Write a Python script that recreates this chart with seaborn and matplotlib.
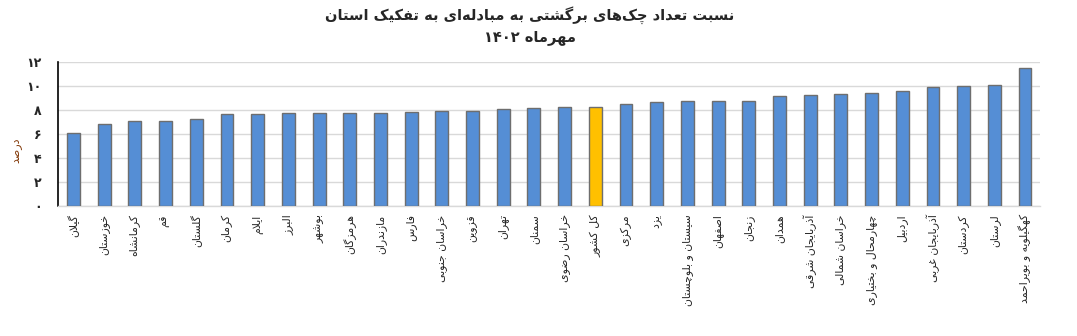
import numpy as np
import pandas as pd
import matplotlib
matplotlib.use("Agg")
import matplotlib.pyplot as plt
import seaborn as sns

# ---------------- data ----------------
provinces = [
    "گیلان", "خوزستان", "کرمانشاه", "قم", "گلستان", "کرمان", "ایلام", "البرز",
    "بوشهر", "هرمزگان", "مازندران", "فارس", "خراسان جنوبی", "قزوین", "تهران",
    "سمنان", "خراسان رضوی", "کل کشور", "مرکزی", "یزد", "سیستان و بلوچستان",
    "اصفهان", "زنجان", "همدان", "آذربایجان شرقی", "خراسان شمالی",
    "چهارمحال و بختیاری", "اردبیل", "آذربایجان غربی", "کردستان", "لرستان",
    "کهگیلویه و بویراحمد",
]
values = [
    6.13, 6.80, 7.05, 7.13, 7.25, 7.67, 7.70, 7.72,
    7.75, 7.78, 7.78, 7.86, 7.92, 7.94, 8.13,
    8.19, 8.25, 8.25, 8.47, 8.64, 8.75,
    8.80, 8.80, 9.17, 9.28, 9.33,
    9.45, 9.60, 9.95, 10.03, 10.06,
    11.50,
]
highlight = "کل کشور"
y_ticks = [0, 2, 4, 6, 8, 10, 12]
title_line1 = "نسبت تعداد چک‌های برگشتی به مبادله‌ای به تفکیک استان"
title_line2 = "مهرماه ۱۴۰۲"
y_label = "درصد"

# ---------------- simple Persian shaping ----------------
FORMS = {
    # char: (isolated, final, initial, medial) ; None for right-joining initial/medial
    "ا": (0xFE8D, 0xFE8E, None, None),
    "آ": (0xFE81, 0xFE82, None, None),
    "ب": (0xFE8F, 0xFE90, 0xFE91, 0xFE92),
    "پ": (0xFB56, 0xFB57, 0xFB58, 0xFB59),
    "ت": (0xFE95, 0xFE96, 0xFE97, 0xFE98),
    "ث": (0xFE99, 0xFE9A, 0xFE9B, 0xFE9C),
    "ج": (0xFE9D, 0xFE9E, 0xFE9F, 0xFEA0),
    "چ": (0xFB7A, 0xFB7B, 0xFB7C, 0xFB7D),
    "ح": (0xFEA1, 0xFEA2, 0xFEA3, 0xFEA4),
    "خ": (0xFEA5, 0xFEA6, 0xFEA7, 0xFEA8),
    "د": (0xFEA9, 0xFEAA, None, None),
    "ذ": (0xFEAB, 0xFEAC, None, None),
    "ر": (0xFEAD, 0xFEAE, None, None),
    "ز": (0xFEAF, 0xFEB0, None, None),
    "ژ": (0xFB8A, 0xFB8B, None, None),
    "س": (0xFEB1, 0xFEB2, 0xFEB3, 0xFEB4),
    "ش": (0xFEB5, 0xFEB6, 0xFEB7, 0xFEB8),
    "ص": (0xFEB9, 0xFEBA, 0xFEBB, 0xFEBC),
    "ض": (0xFEBD, 0xFEBE, 0xFEBF, 0xFEC0),
    "ط": (0xFEC1, 0xFEC2, 0xFEC3, 0xFEC4),
    "ظ": (0xFEC5, 0xFEC6, 0xFEC7, 0xFEC8),
    "ع": (0xFEC9, 0xFECA, 0xFECB, 0xFECC),
    "غ": (0xFECD, 0xFECE, 0xFECF, 0xFED0),
    "ف": (0xFED1, 0xFED2, 0xFED3, 0xFED4),
    "ق": (0xFED5, 0xFED6, 0xFED7, 0xFED8),
    "ک": (0xFB8E, 0xFB8F, 0xFB90, 0xFB91),
    "گ": (0xFB92, 0xFB93, 0xFB94, 0xFB95),
    "ل": (0xFEDD, 0xFEDE, 0xFEDF, 0xFEE0),
    "م": (0xFEE1, 0xFEE2, 0xFEE3, 0xFEE4),
    "ن": (0xFEE5, 0xFEE6, 0xFEE7, 0xFEE8),
    "ه": (0xFEE9, 0xFEEA, 0xFEEB, 0xFEEC),
    "و": (0xFEED, 0xFEEE, None, None),
    "ی": (0xFBFC, 0xFBFD, 0xFBFE, 0xFBFF),
    "ئ": (0xFE89, 0xFE8A, 0xFE8B, 0xFE8C),
}
LAM_ALEF = {"ا": (0xFEFB, 0xFEFC), "آ": (0xFEF5, 0xFEF6)}


def _dual(c):
    return c in FORMS and FORMS[c][2] is not None


def shape(text):
    out = []
    n = len(text)
    i = 0
    while i < n:
        c = text[i]
        if c == "\u200c":
            i += 1
            continue
        if c not in FORMS:
            out.append(c)
            i += 1
            continue
        prev = text[i - 1] if i > 0 else ""
        join_prev = _dual(prev)
        if c == "ل" and i + 1 < n and text[i + 1] in LAM_ALEF:
            iso, fin = LAM_ALEF[text[i + 1]]
            out.append(chr(fin if join_prev else iso))
            i += 2
            continue
        nxt = text[i + 1] if i + 1 < n else ""
        join_next = _dual(c) and nxt in FORMS
        iso, fin, ini, med = FORMS[c]
        if join_prev and join_next:
            code = med
        elif join_prev:
            code = fin
        elif join_next:
            code = ini
        else:
            code = iso
        out.append(chr(code))
        i += 1
    s = "".join(out)[::-1]
    # restore left-to-right order of digit runs
    res, run = [], []
    digits = set("0123456789۰۱۲۳۴۵۶۷۸۹")
    for ch in s:
        if ch in digits:
            run.append(ch)
        else:
            if run:
                res.extend(run[::-1]); run = []
            res.append(ch)
    if run:
        res.extend(run[::-1])
    return "".join(res)


def fa_digits(v):
    return str(v).translate(str.maketrans("0123456789", "۰۱۲۳۴۵۶۷۸۹"))


# ---------------- plot ----------------
sns.set_theme(style="white")
plt.rcParams["font.family"] = ["DejaVu Sans"]

df = pd.DataFrame({"province": provinces, "value": values})
blue = "#558ED5"
yellow = "#FFC000"
palette = {p: (yellow if p == highlight else blue) for p in provinces}

fig = plt.figure(figsize=(10.77, 3.36), dpi=100)
ax = fig.add_axes([0.054, 0.387, 0.912, 0.428])

sns.barplot(data=df, x="province", y="value", hue="province", palette=palette,
            legend=False, width=0.42, edgecolor="#6E6E6E", linewidth=1.0,
            saturation=1, ax=ax, zorder=3)

ax.set_ylim(0, 12)
ax.set_xlim(-0.5, len(provinces) - 0.5)
ax.set_yticks(y_ticks)
ax.set_yticklabels([fa_digits(t) for t in y_ticks], fontsize=9, fontweight="bold")
ax.yaxis.grid(True, color="#D9D9D9", linewidth=1.0, zorder=0)
ax.xaxis.grid(False)
ax.tick_params(axis="y", length=0, pad=12)

ax.set_xticks(range(len(provinces)))
ax.set_xticklabels([shape(p) for p in provinces], rotation=90, fontsize=7.8,
                   ha="center", va="top")
ax.tick_params(axis="x", length=0, pad=6)
# minor ticks between categories
ax.set_xticks(np.arange(-0.5, len(provinces), 1.0), minor=True)
ax.tick_params(axis="x", which="minor", length=5, color="#D9D9D9", width=1)

ax.set_xlabel("")
ax.set_ylabel(shape(y_label), fontsize=8, color="#843C0C")
ax.yaxis.set_label_coords(-0.037, 0.39)

for side in ["top", "right"]:
    ax.spines[side].set_visible(False)
ax.spines["left"].set_color("black")
ax.spines["left"].set_linewidth(1.2)
ax.spines["bottom"].set_color("#D9D9D9")
ax.spines["bottom"].set_linewidth(1.0)

fig.text(0.492, 0.955, shape(title_line1), ha="center", va="center",
         fontsize=10.5, fontweight="bold")
fig.text(0.492, 0.888, shape(title_line2), ha="center", va="center",
         fontsize=10.5, fontweight="bold")

fig.savefig("out.png", dpi=100)
